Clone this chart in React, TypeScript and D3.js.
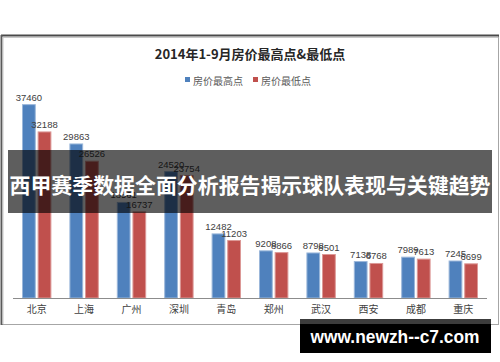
import React from "react";
import * as d3 from "d3";

const cities = ["北京", "上海", "广州", "深圳", "青岛", "郑州", "武汉", "西安", "成都", "重庆"];
const highValues = [37460, 29863, 18561, 24520, 12482, 9208, 8798, 7138, 7989, 7245];
const lowValues = [32188, 26526, 16737, 23754, 11203, 8866, 8501, 6768, 7613, 6699];
const seriesNames = ["房价最高点", "房价最低点"];
const seriesColors = ["#4F81BD", "#C0504D"];
const seriesStroke = ["#9bb7da", "#dc9896"];
const title = "2014年1-9月房价最高点&最低点";
const banner = "西甲赛季数据全面分析报告揭示球队表现与关键趋势";
const watermark = "www.newzh--c7.com";

const W = 500;
const H = 362;

export default function App() {
  const x = d3.scaleBand<string>().domain(cities).range([13, 487]).paddingInner(0.38).paddingOuter(0.19);
  const xSub = d3.scaleBand<number>().domain([0, 1]).range([0, x.bandwidth()]).paddingInner(0.12);
  const y = d3.scaleLinear().domain([0, 40000]).range([298, 91]);
  const series = [highValues, lowValues];
  const labelFont = "'Liberation Sans', Arial, sans-serif";
  const cjkFont = "'Noto Sans CJK SC', 'Liberation Sans', sans-serif";

  return (
    <svg width={W} height={H} style={{ position: "absolute", left: 0, top: 0, background: "#fff" }}>
      <rect x={0} y={0} width={W} height={H} fill="#fff" />
      {/* chart frame */}
      <rect x={1.5} y={35.5} width={497} height={289} fill="#fff" stroke="#a6a6a6" strokeWidth={1} />
      <line x1={1} x2={499} y1={35.5} y2={35.5} stroke="#4a4a4a" strokeWidth={2} />
      <line x1={1.5} x2={1.5} y1={35} y2={325} stroke="#5a5a5a" strokeWidth={2} />
      <line x1={3} x2={498} y1={37.5} y2={37.5} stroke="#c8c8c8" strokeWidth={1} />
      <line x1={3} x2={3} y1={37} y2={324} stroke="#c8c8c8" strokeWidth={1} />

      {/* title */}
      <text x={250} y={59} textAnchor="middle" fontFamily={cjkFont} fontWeight="bold" fontSize={13} fill="#262626">
        {title}
      </text>

      {/* legend */}
      {seriesNames.map((name, i) => {
        const lx = i === 0 ? 185 : 253;
        return (
          <g key={name}>
            <rect x={lx} y={77} width={5} height={5} fill={seriesColors[i]} />
            <text x={lx + 8} y={80.5} dominantBaseline="central" fontFamily={cjkFont} fontSize={10} fill="#595959">
              {name}
            </text>
          </g>
        );
      })}

      {/* bars */}
      {cities.map((c, ci) => (
        <g key={c} transform={`translate(${x(c)},0)`}>
          {series.map((vals, si) => {
            const v = vals[ci];
            const bx = xSub(si) as number;
            const bw = xSub.bandwidth();
            return (
              <g key={si}>
                <rect
                  x={bx + 0.5}
                  y={y(v) + 0.5}
                  width={bw - 1}
                  height={y(0) - y(v) - 0.5}
                  fill={seriesColors[si]}
                  stroke={seriesStroke[si]}
                  strokeWidth={1}
                />
                <text
                  x={bx + bw / 2}
                  y={y(v) - 3.5}
                  textAnchor="middle"
                  fontFamily={labelFont}
                  fontSize={9.5}
                  fill="#404040"
                >
                  {v}
                </text>
              </g>
            );
          })}
        </g>
      ))}

      {/* axis */}
      <line x1={13} x2={487} y1={y(0) + 0.5} y2={y(0) + 0.5} stroke="#8c8c8c" strokeWidth={1} />
      {cities.map((c) => (
        <text
          key={c}
          x={(x(c) as number) + x.bandwidth() / 2}
          y={308}
          textAnchor="middle"
          dominantBaseline="central"
          fontFamily={cjkFont}
          fontSize={10}
          fill="#404040"
        >
          {c}
        </text>
      ))}

      {/* banner overlay */}
      <rect x={8} y={150} width={484} height={63} fill="#000" fillOpacity={0.63} />
      <text
        x={250}
        y={184}
        textAnchor="middle"
        dominantBaseline="central"
        fontFamily={cjkFont}
        fontWeight="bold"
        fontSize={21}
        fill="#fff"
        textLength={481}
        lengthAdjust="spacingAndGlyphs"
      >
        {banner}
      </text>

      {/* watermark */}
      <rect x={300} y={319} width={191} height={6} fill="#3c3c3c" />
      <rect x={300} y={324} width={191} height={29} fill="#000" />
      <text
        x={395}
        y={337}
        textAnchor="middle"
        dominantBaseline="central"
        fontFamily="'Liberation Sans', Arial, sans-serif"
        fontWeight="bold"
        fontSize={18}
        fill="#fff"
        textLength={169}
        lengthAdjust="spacingAndGlyphs"
      >
        {watermark}
      </text>
    </svg>
  );
}
